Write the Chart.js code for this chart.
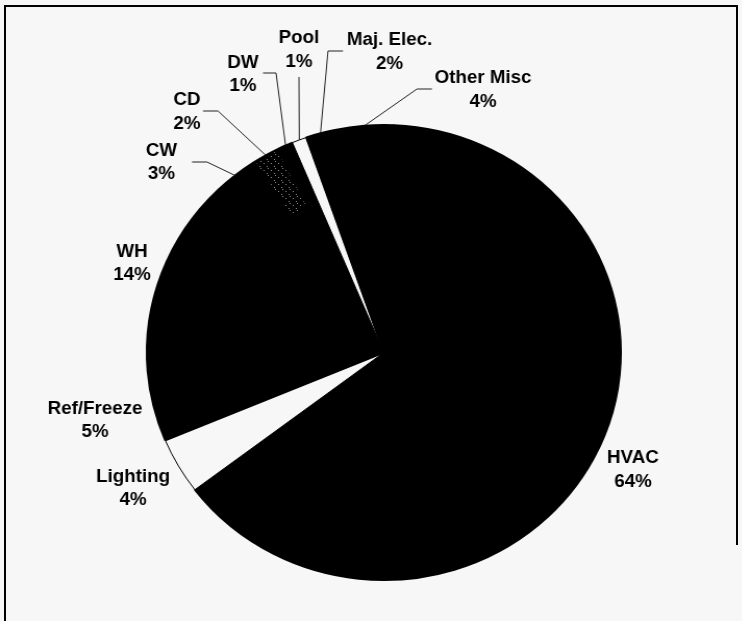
<!DOCTYPE html>
<html>
<head>
<meta charset="utf-8">
<title>End-use shares</title>
<script src="https://cdn.jsdelivr.net/npm/chart.js@4.4.1/dist/chart.umd.min.js"></script>
<style>
  html, body { margin: 0; padding: 0; background: #f7f7f7; }
  body { width: 742px; height: 621px; position: relative; overflow: hidden; }
  .rule { position: absolute; background: #000; }
  #wrap { position: absolute; left: 0; top: 0; width: 713px; height: 621px;
          transform: scaleX(1.0416); transform-origin: 0 0; }
</style>
</head>
<body>
<div class="rule" style="left:4px; top:5px; width:734px; height:2px;"></div>
<div class="rule" style="left:4px; top:5px; width:2px; height:616px;"></div>
<div class="rule" style="left:736px; top:5px; width:2px; height:540px;"></div>
<div id="wrap"><canvas id="pie"></canvas></div>
<script>
// end uses, clockwise from the top
const categories = ['HVAC', 'Lighting', 'Ref/Freeze', 'WH', 'CW', 'CD', 'DW', 'Pool', 'Maj. Elec.', 'Other Misc'];
const shares = [64, 4, 5, 14, 3, 2, 1, 1, 2, 4];

const paper = '#f7f7f7';
const sliceColors = ['#000', paper, '#000', '#000', '#000', '#000', '#000', paper, '#000', '#000'];
// thicker edge on the dark wedges hides the seams between them
const edgeWidths = sliceColors.map(c => (c === paper ? 1 : 2));

// label anchors (canvas px) + optional elbow points for the leader lines
const labelSpots = [
    { x: 607.7, y: 458.5 },
    { x: 127.7, y: 477 },
    { x: 91.2, y: 409 },
    { x: 126.7, y: 252 },
    { x: 155, y: 151, leader: [[184.3, 162], [198.7, 162]] },
    { x: 179.5, y: 100.5, leader: [[194.9, 111], [209.3, 111]] },
    { x: 233.3, y: 63, leader: [[252.5, 73], [265, 73]] },
    { x: 287, y: 38.5, leader: [[287, 77]] },
    { x: 374, y: 40.5, leader: [[329.3, 51], [314.9, 51]] },
    { x: 463.7, y: 78.5, leader: [[414.7, 89], [400.3, 89]] }
];

// sparse light specks for the CD wedge
function speckPattern(ctx) {
    const tile = document.createElement('canvas');
    tile.width = 7; tile.height = 7;
    const t = tile.getContext('2d');
    t.fillStyle = '#000';
    t.fillRect(0, 0, 7, 7);
    t.fillStyle = '#8c8c8c';
    t.fillRect(1, 2, 1, 1);
    t.fillRect(4, 5, 1, 1);
    t.fillRect(5, 0, 1, 1);
    return ctx.createPattern(tile, 'repeat');
}

const speckles = {
    id: 'speckles',
    afterDatasetsDraw(chart) {
        const idx = categories.indexOf('CD');
        const arc = chart.getDatasetMeta(0).data[idx];
        const { x, y, startAngle, endAngle, outerRadius } = arc.getProps(['x', 'y', 'startAngle', 'endAngle', 'outerRadius'], true);
        const ctx = chart.ctx;
        ctx.save();
        ctx.beginPath();
        ctx.arc(x, y, outerRadius - 1.5, startAngle + 0.012, endAngle - 0.012);
        ctx.arc(x, y, outerRadius * 0.72, endAngle - 0.012, startAngle + 0.012, true);
        ctx.closePath();
        ctx.fillStyle = speckPattern(ctx);
        ctx.fill();
        ctx.restore();
    }
};

const outsideLabels = {
    id: 'outsideLabels',
    afterDraw(chart) {
        const ctx = chart.ctx;
        const arcs = chart.getDatasetMeta(0).data;
        ctx.save();
        ctx.strokeStyle = '#222';
        ctx.lineWidth = 1;
        ctx.fillStyle = '#000';
        ctx.font = 'bold 18px "Liberation Sans", Arial, sans-serif';
        ctx.textAlign = 'center';
        ctx.textBaseline = 'middle';
        labelSpots.forEach((spot, i) => {
            if (spot.leader) {
                const { x, y, startAngle, endAngle, outerRadius } = arcs[i].getProps(['x', 'y', 'startAngle', 'endAngle', 'outerRadius'], true);
                const mid = (startAngle + endAngle) / 2;
                ctx.beginPath();
                ctx.moveTo(spot.leader[0][0], spot.leader[0][1]);
                spot.leader.slice(1).forEach(p => ctx.lineTo(p[0], p[1]));
                ctx.lineTo(x + outerRadius * Math.cos(mid), y + outerRadius * Math.sin(mid));
                ctx.stroke();
            }
            ctx.fillText(categories[i], spot.x, spot.y);
            ctx.fillText(shares[i] + '%', spot.x, spot.y + 23.5);
        });
        ctx.restore();
    }
};

new Chart(document.getElementById('pie'), {
    type: 'pie',
    data: {
        labels: categories,
        datasets: [{
            data: shares,
            backgroundColor: sliceColors,
            borderColor: '#000',
            borderWidth: edgeWidths
        }]
    },
    options: {
        responsive: true,
        maintainAspectRatio: false,
        animation: false,
        rotation: 2.5,
        layout: { padding: { left: 140, top: 124, right: 116, bottom: 40 } },
        plugins: {
            legend: { display: false },
            tooltip: { enabled: false }
        }
    },
    plugins: [speckles, outsideLabels]
});
</script>
</body>
</html>
